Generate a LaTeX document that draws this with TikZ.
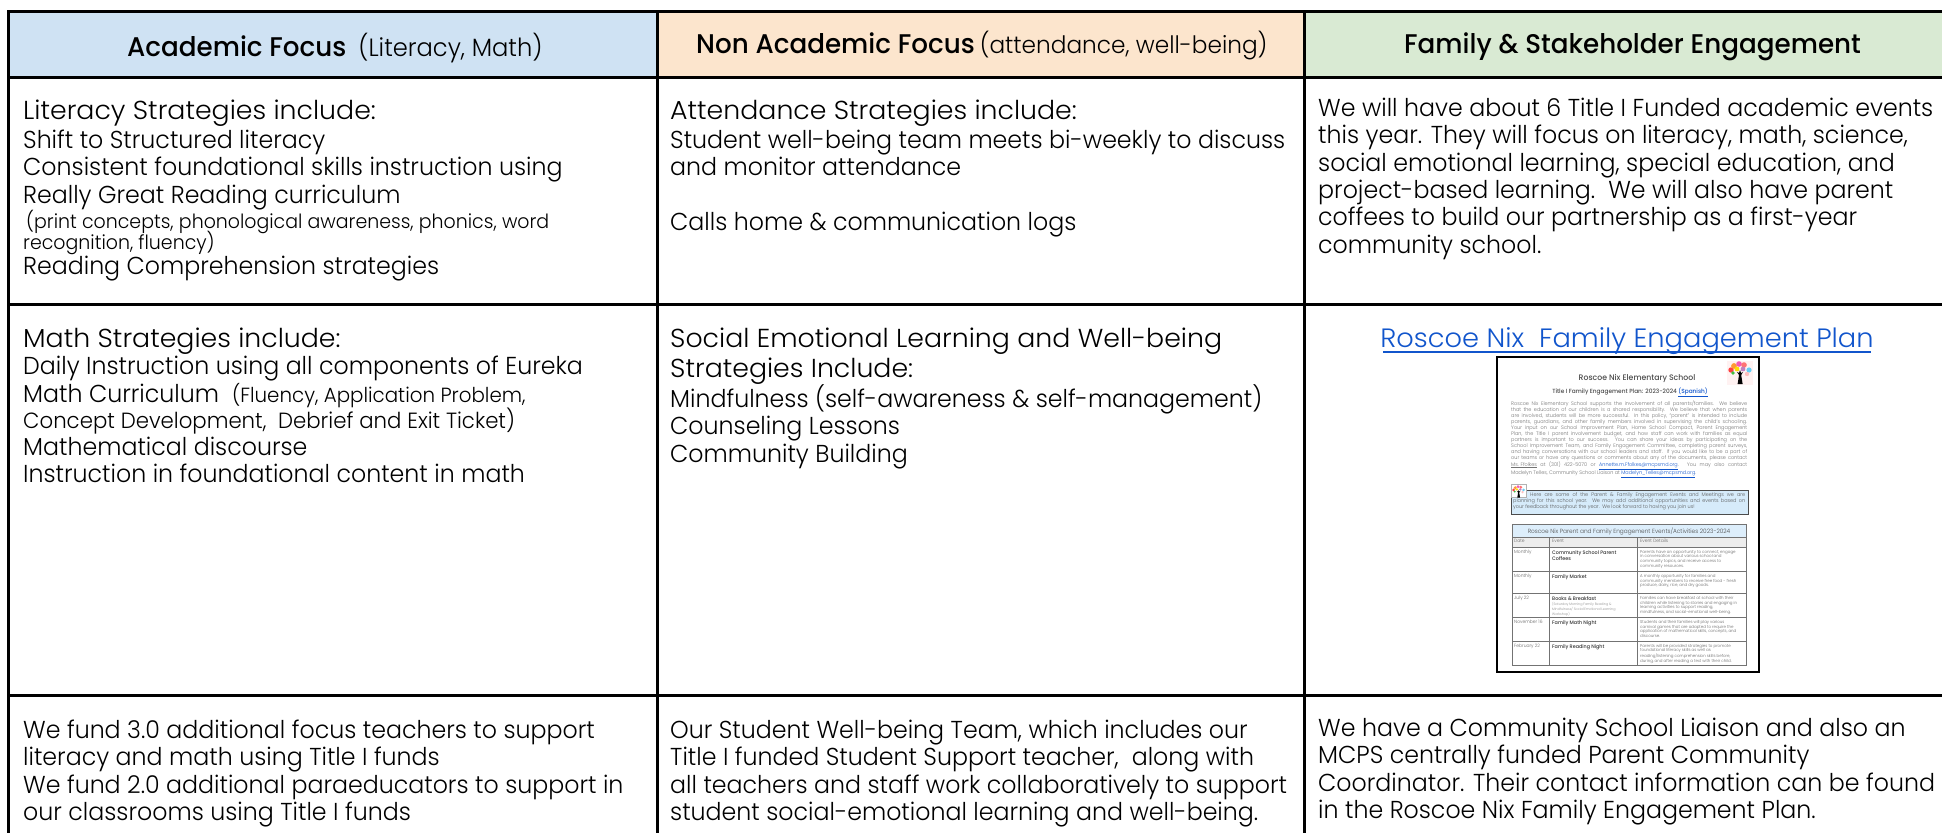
\documentclass[tikz,border=0pt]{standalone}
\usepackage{fontspec}
\setmainfont{Poppins Light}[FakeStretch=0.967,BoldFont=Poppins Medium,BoldFeatures={FakeStretch=0.97}]
\newfontfamily\disp{Poppins Light}[FakeStretch=1.03]
\definecolor{hblue}{HTML}{CFE2F3}
\definecolor{horange}{HTML}{FCE5CD}
\definecolor{hgreen}{HTML}{D9EAD3}
\definecolor{linkblue}{HTML}{1155CC}
\definecolor{calloutblue}{HTML}{D6EBFA}
\definecolor{tablehead}{HTML}{DDEEFB}
\newcommand{\bt}{\fontsize{24.5}{27.4}\selectfont}
\newcommand{\sm}{\fontsize{19.6}{27.4}\selectfont}
\newcommand{\mdt}{\fontsize{20.5}{27.4}\selectfont}
\newcommand{\mdu}{\fontsize{22}{27.4}\selectfont}
\newcommand{\dt}{\disp\fontsize{26}{27.4}\selectfont}
\newcommand{\fs}{\rule{0pt}{20pt}}
\newcommand{\treeicon}[3]{%
 \begin{scope}[shift={(#1,#2)},x=#3pt,y=-#3pt]
  \fill[black] (9.6,23) -- (11,14) -- (9,11) -- (11,12) -- (12,9) -- (13,12) -- (15,11) -- (13.2,14) -- (14.6,23) -- cycle;
  \fill[red!75!white] (3,9) circle (2.7);
  \fill[orange!80!white] (6,5) circle (2.9);
  \fill[magenta!65!white] (11,3) circle (2.8);
  \fill[red!55!white] (16,4) circle (2.8);
  \fill[cyan!60!white] (21,9) circle (2.6);
  \fill[yellow!80!orange] (9,8) circle (2.4);
  \fill[violet!50!white] (15,8) circle (2.4);
  \fill[green!50!gray] (5,12) circle (1.9);
  \fill[pink] (19,13) circle (2.2);
 \end{scope}}
\tikzset{
 x=1pt,y=-1pt,
 grid/.style={line width=3pt,black},
 cell/.style={anchor=north west,inner sep=0pt,align=left,font=\bt,text=black},
 head/.style={anchor=base,inner sep=0pt,font=\bfseries\fontsize{27}{30}\selectfont,text=black},
 doct/.style={inner sep=0pt,text=black!70},
 docrow/.style={anchor=north west,inner sep=0pt,align=left,text=black!60,font=\fontsize{4.6}{5.2}\selectfont},
 docname/.style={docrow,text=black!80,font=\bfseries\fontsize{5}{6}\selectfont},
 docdetail/.style={docrow,font=\fontsize{4.1}{4.7}\selectfont},
 docgrid/.style={line width=.7pt,black!55},
}
\begin{document}
\begin{tikzpicture}
\useasboundingbox (0,0) rectangle (1942,833);
\fill[white] (0,0) rectangle (1942,833);
% header fills
\fill[hblue] (8,11) rectangle (657,77);
\fill[horange] (657,11) rectangle (1304,77);
\fill[hgreen] (1304,11) rectangle (1942,77);
% grid
\draw[grid] (1942,11) -- (8,11) -- (8,833);
\draw[grid] (657,11) -- (657,833);
\draw[grid] (1304,11) -- (1304,833);
\draw[grid] (8,77) -- (1942,77);
\draw[grid] (8,304) -- (1942,304);
\draw[grid] (8,695) -- (1942,695);
% headers
\node[head,anchor=base west] (h1) at (127,56) {Academic Focus\hspace{12pt}{\mdseries\fontsize{25}{30}\selectfont(Literacy, Math)}};
\node[head,anchor=base west] (h2) at (696,53) {Non Academic Focus\hspace{5pt}{\mdseries\fontsize{24}{30}\selectfont(attendance, well-being)}};
\node[head,anchor=base west] (h3) at (1404,53) {Family \& Stakeholder Engagement};
% row 1
\node[cell] (a1) at (23,99) {\fs{\dt Literacy Strategies include:}\\[1.6pt]
Shift to Structured literacy\\
Consistent foundational skills instruction using\\[.6pt]
Really Great Reading curriculum\\[-2.4pt]
{\sm\hspace{3pt}(print concepts, phonological awareness, phonics, word}\\[-6.4pt]
{\sm recognition, fluency)}\\[-2.4pt]
Reading Comprehension strategies};
\node[cell] (b1) at (670,99) {\fs{\dt Attendance Strategies include:}\\[1.6pt]
Student well-being team meets bi-weekly to discuss\\
and monitor attendance\\
\\
Calls home \& communication logs};
\node[cell] (c1) at (1318,96) {\fs We will have about 6 Title I Funded academic events\\
this year. They will focus on literacy, math, science,\\
social emotional learning, special education, and\\
project-based learning.\ \ We will also have parent\\
coffees to build our partnership as a first-year\\
community school.};
% row 2
\node[cell] (a2) at (23,327) {\fs{\dt Math Strategies include:}\\
Daily Instruction using all components of Eureka\\
Math Curriculum\ \ {\mdt(Fluency, Application Problem,}\\[-1pt]
{\mdu Concept Development,\ \ Debrief and Exit Ticket)}\\[-.4pt]
Mathematical discourse\\[-.4pt]
Instruction in foundational content in math};
\node[cell] (b2) at (670,327) {\fs{\dt Social Emotional Learning and Well-being}\\[2.6pt]
{\dt Strategies Include:}\\[-.6pt]
Mindfulness (self-awareness \& self-management)\\
Counseling Lessons\\[.2pt]
Community Building};
\node[anchor=base,inner sep=0pt,text=linkblue,font=\disp\fontsize{26.5}{30}\selectfont] (link) at (1627,347) {Roscoe Nix\ \ Family Engagement Plan};
\draw[linkblue,line width=1.6pt] (1383,352) -- (1871,352);
% embedded document
\draw[line width=2.5pt,black,fill=white] (1497,357) rectangle (1759,672);
\fill[red!5] (1727,361) rectangle (1753,385);
\treeicon{1728}{361}{1}
\node[doct,font=\bfseries\fontsize{8}{9}\selectfont] (dt1) at (1637,378) {Roscoe Nix Elementary School};
\node[doct,font=\bfseries\fontsize{6}{7}\selectfont] (dt2) at (1630,392) {Title I Family Engagement Plan: 2023-2024 \textcolor{linkblue}{\underline{(Spanish)}}};
\node[anchor=north west,inner sep=0pt,text width=236pt,align=justify,text=black!55,font=\fontsize{5.1}{6}\selectfont] (dp) at (1511,400) {Roscoe Nix Elementary School supports the involvement of all parents/families. We believe\linebreak
that the education of our children is a shared responsibility. We believe that when parents\linebreak
are involved, students will be more successful. In this policy, ``parent'' is intended to include\linebreak
parents, guardians, and other family members involved in supervising the child's schooling.\linebreak
Your input on our School Improvement Plan, Home School Compact, Parent Engagement\linebreak
Plan, the Title I parent involvement budget, and how staff can work with families as equal\linebreak
partners is important to our success. You can share your ideas by participating on the\linebreak
School Improvement Team, and Family Engagement Committee, completing parent surveys,\linebreak
and having conversations with our school leaders and staff. If you would like to be a part of\linebreak
our teams or have any questions or comments about any of the documents, please contact\linebreak
\underline{Ms. Ffolkes} at (301) 422-5070 or \textcolor{linkblue}{\underline{Annette.m.Ffolkes@mcpsmd.org}}. You may also contact\linebreak
Madelyn Telles, Community School Liaison at \textcolor{linkblue}{\underline{Madelyn\_Telles@mcpsmd.org}}.};
\draw[line width=.8pt,black!70,fill=calloutblue] (1511,490) rectangle (1748,514);
\draw[line width=.3pt,black!30,fill=white] (1511,484) rectangle (1526,497);
\treeicon{1512}{485}{.55}
\node[anchor=north west,inner sep=0pt,text width=232pt,align=justify,text=black!65,font=\fontsize{5.1}{6}\selectfont] (dc) at (1513,492) {\hspace{17pt}Here are some of the Parent \& Family Engagement Events and Meetings we are\linebreak
planning for this school year. We may add additional opportunities and events based on\linebreak
your feedback throughout the year.\ \ We look forward to having you join us!};
% embedded table
\fill[tablehead] (1512,524) rectangle (1746,537);
\fill[black!7] (1512,537) rectangle (1746,547);
\draw[docgrid] (1512,524) rectangle (1746,665);
\draw[docgrid] (1512,537) -- (1746,537);
\draw[docgrid] (1512,547) -- (1746,547);
\draw[docgrid] (1512,571) -- (1746,571);
\draw[docgrid] (1512,593) -- (1746,593);
\draw[docgrid] (1512,617) -- (1746,617);
\draw[docgrid] (1512,641) -- (1746,641);
\draw[docgrid] (1549,537) -- (1549,665);
\draw[docgrid] (1637,537) -- (1637,665);
\node[doct,font=\fontsize{6}{7}\selectfont] (tt) at (1629,531) {Roscoe Nix Parent and Family Engagement Events/Activities 2023-2024};
\node[docrow] (t1) at (1514,539) {Date};
\node[docrow] (t2) at (1552,539) {Event};
\node[docrow] (t3) at (1640,539) {Event Details};
\node[docrow] (r1a) at (1514,550) {Monthly};
\node[docname] (r1b) at (1552,550) {Community School Parent\\Coffees};
\node[docdetail] (r1c) at (1640,550) {Parents have an opportunity to connect, engage\\in conversation about various school and\\community topics, and receive access to\\community resources.};
\node[docrow] (r2a) at (1514,574) {Monthly};
\node[docname] (r2b) at (1552,574) {Family Market};
\node[docdetail] (r2c) at (1640,574) {A monthly opportunity for families and\\community members to receive free food - fresh\\produce, dairy, rice, and dry goods.};
\node[docrow] (r3a) at (1514,596) {July 22};
\node[docname] (r3b) at (1552,596) {Books \& Breakfast};
\node[docrow,text=black!45,font=\fontsize{3.4}{4}\selectfont] (r3s) at (1552,602) {(Saturday Morning Family Reading \&\\Mindfulness/ Social Emotional Learning\\Workshop)};
\node[docdetail] (r3c) at (1640,596) {Families can have breakfast at school with their\\children while listening to stories and engaging in\\learning activities to support reading,\\mindfulness, and social-emotional well-being.};
\node[docrow] (r4a) at (1514,620) {November 16};
\node[docname] (r4b) at (1552,620) {Family Math Night};
\node[docdetail] (r4c) at (1640,620) {Students and their families will play various\\carnival games that are adapted to require the\\application of mathematical skills, concepts, and\\discourse.};
\node[docrow] (r5a) at (1514,644) {February 22};
\node[docname] (r5b) at (1552,644) {Family Reading Night};
\node[docdetail] (r5c) at (1640,644) {Parents will be provided strategies to promote\\foundational literacy skills as well as\\reading/listening comprehension skills before,\\during, and after reading a text with their child.};
% row 3
\node[cell] (a3) at (23,718) {\fs We fund 3.0 additional focus teachers to support\\
literacy and math using Title I funds\\
We fund 2.0 additional paraeducators to support in\\
our classrooms using Title I funds};
\node[cell] (b3) at (670,718) {\fs Our Student Well-being Team, which includes our\\
Title I funded Student Support teacher,\ \ along with\\
all teachers and staff work collaboratively to support\\
student social-emotional learning and well-being.};
\node[cell] (c3) at (1318,716) {\fs We have a Community School Liaison and also an\\
MCPS centrally funded Parent Community\\
Coordinator. Their contact information can be found\\
in the Roscoe Nix Family Engagement Plan.};
\end{tikzpicture}
\end{document}
